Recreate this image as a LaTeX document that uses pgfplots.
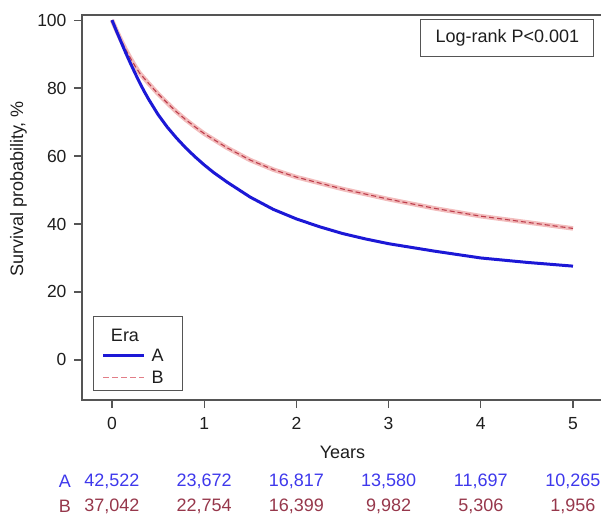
\documentclass[border=0pt]{standalone}
\usepackage{fontspec}
\setmainfont{Liberation Sans}
\usepackage{pgfplots}
\usepackage{pgfplotstable}
\pgfplotsset{compat=1.18}

\definecolor{eraA}{RGB}{28,24,214}
\definecolor{eraB}{RGB}{190,62,76}
\definecolor{bandB}{RGB}{242,188,188}
\definecolor{legB}{RGB}{226,125,135}
\definecolor{numA}{RGB}{62,56,236}
\definecolor{numB}{RGB}{150,55,75}
\definecolor{frame}{RGB}{85,85,85}
\definecolor{txt}{RGB}{30,30,30}
\newcommand\f{\fontsize{18}{21}\selectfont}

% survival curves (years, %)
\pgfplotstableread{
x y
0 100
0.05 96.7
0.1 93.5
0.15 90.3
0.2 87.3
0.25 84.4
0.3 81.6
0.35 79.0
0.4 76.6
0.5 72.2
0.6 68.5
0.7 65.3
0.8 62.4
0.9 59.8
1.0 57.4
1.1 55.2
1.25 52.3
1.5 47.9
1.75 44.3
2.0 41.5
2.25 39.2
2.5 37.2
2.75 35.6
3.0 34.2
3.5 32.0
4.0 30.0
4.5 28.7
5.0 27.6
}\curveA

\pgfplotstableread{
x y
0 100
0.05 96.9
0.1 94.0
0.15 91.3
0.2 88.8
0.25 86.5
0.3 84.4
0.4 81.3
0.5 78.3
0.6 75.6
0.7 73.0
0.8 70.7
0.9 68.6
1.0 66.6
1.25 62.4
1.5 58.8
1.75 56.0
2.0 53.8
2.5 50.3
3.0 47.3
3.5 44.6
4.0 42.3
4.5 40.5
5.0 38.7
}\curveB

\begin{document}
\begin{tikzpicture}[x=1pt,y=1pt]
\useasboundingbox (0,0) rectangle (601,-517);
\begin{axis}[
  at={(82pt,-400pt)}, anchor=south west,
  width=519pt, height=385pt, scale only axis,
  xmin=-0.325, xmax=5.304, ymin=-11.8, ymax=101.5,
  xtick={0,1,2,3,4,5}, ytick={0,20,40,60,80,100},
  axis line style={draw=none},
  xtick pos=bottom, ytick pos=left,
  tick align=outside, major tick length=8pt,
  every tick/.style={frame, line width=1.2pt},
  ticklabel style={font=\fontsize{17.5}{21}\selectfont, text=txt},
  xticklabel style={yshift=-6pt},
  yticklabel style={xshift=-4pt},
  /pgf/number format/assume math mode=true,
  clip=false,
]
\addplot[bandB, line width=4.5pt] table[x=x,y=y] {\curveB};
\addplot[eraB, line width=1.1pt, dash pattern=on 5pt off 3pt] table[x=x,y=y] {\curveB};
\addplot[eraA, line width=3pt] table[x=x,y=y] {\curveA};

\draw[frame, line width=1.6pt] (rel axis cs:1,1) -- (rel axis cs:0,1) -- (rel axis cs:0,0) -- (rel axis cs:1,0);

\node[font=\f, text=txt] at (axis cs:2.5,-27.1) {Years};
\node[font=\f, text=numA] at (axis cs:-0.51,-35.6) {A};
\node[font=\f, text=numB] at (axis cs:-0.51,-43.0) {B};
\node[font=\f, text=numA] at (axis cs:0,-35.6) {42,522};
\node[font=\f, text=numA] at (axis cs:1,-35.6) {23,672};
\node[font=\f, text=numA] at (axis cs:2,-35.6) {16,817};
\node[font=\f, text=numA] at (axis cs:3,-35.6) {13,580};
\node[font=\f, text=numA] at (axis cs:4,-35.6) {11,697};
\node[font=\f, text=numA] at (axis cs:5,-35.6) {10,265};
\node[font=\f, text=numB] at (axis cs:0,-43.0) {37,042};
\node[font=\f, text=numB] at (axis cs:1,-43.0) {22,754};
\node[font=\f, text=numB] at (axis cs:2,-43.0) {16,399};
\node[font=\f, text=numB] at (axis cs:3,-43.0) {9,982};
\node[font=\f, text=numB] at (axis cs:4,-43.0) {5,306};
\node[font=\f, text=numB] at (axis cs:5,-43.0) {1,956};
\end{axis}

\node[font=\f, text=txt, rotate=90] at (18.5,-189) {Survival probability, \%};

% legend
\draw[frame, line width=1.2pt, fill=white] (93.3,-316.7) rectangle (182.7,-390.7);
\node[font=\f, text=txt] at (125,-335) {Era};
\draw[eraA, line width=2.5pt] (103,-355.7) -- (144,-355.7);
\node[font=\f, text=txt] at (157.7,-355.7) {A};
\draw[legB, line width=1pt, dash pattern=on 6pt off 3pt] (103,-377.7) -- (144,-377.7);
\node[font=\f, text=txt] at (157.7,-377.7) {B};

% test box
\node[draw=frame, line width=1pt, minimum width=173pt, minimum height=37pt, inner sep=0pt,
  font=\fontsize{18}{21}\selectfont, text=txt] at (507.3,-38.3) {Log-rank P<0.001};
\end{tikzpicture}
\end{document}
